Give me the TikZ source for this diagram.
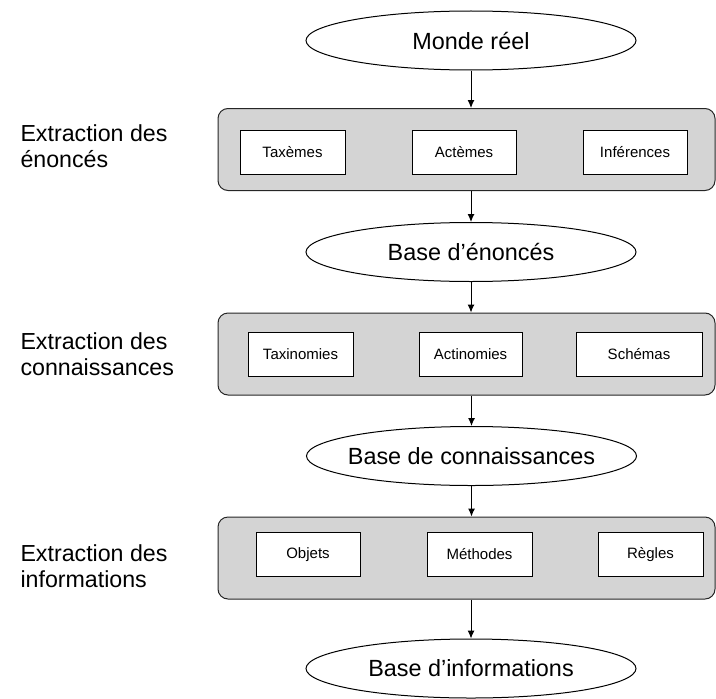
\documentclass[tikz,border=0pt]{standalone}
\usepackage{fontspec}
\setmainfont{Liberation Sans}
\usetikzlibrary{shapes.geometric,arrows.meta}
\definecolor{panelgray}{RGB}{212,212,212}

\begin{document}
\begin{tikzpicture}[x=50pt,y=50pt,line width=0.5pt,
  baseell/.style={draw, ellipse, inner xsep=-4pt, inner ysep=0pt, minimum width=165pt, minimum height=29.5pt, font=\fontsize{11.7}{14}\selectfont},
  panel/.style={draw=black!85, fill=panelgray, rounded corners=5pt, minimum width=248.5pt, minimum height=41pt},
  itembox/.style={draw, fill=white, minimum height=22pt, font=\fontsize{7.5}{9}\selectfont},
  phase/.style={anchor=west, align=left, inner sep=0pt, font=\fontsize{11.6}{13}\selectfont},
  flow/.style={-{Latex[length=4pt,width=3.5pt]}}]

\useasboundingbox (0,0) rectangle (7.16,6.98);

% Bases
\node[baseell] (MR) at (4.71,6.575) {Monde réel};
\node[baseell] (BE) at (4.71,4.46) {Base d’énoncés};
\node[baseell] (BC) at (4.715,2.42) {Base de connaissances};
\node[baseell] (BI) at (4.71,0.295) {Base d’informations};

% Extractions
\node[panel] (EE) at (4.665,5.485) {};
\node[panel] (EC) at (4.665,3.44) {};
\node[panel] (EI) at (4.665,1.40) {};

\node[phase] (LE) at (0.2,5.515) {Extraction des\\énoncés};
\node[phase] (LC) at (0.2,3.435) {Extraction des\\connaissances};
\node[phase] (LI) at (0.2,1.315) {Extraction des\\informations};

% Composants
\node[itembox, minimum width=52.5pt] (Tax) at (2.925,5.46) {Taxèmes};
\node[itembox, minimum width=52pt] (Act) at (4.64,5.46) {Actèmes};
\node[itembox, minimum width=52pt] (Inf) at (6.35,5.46) {Inférences};

\node[itembox, minimum width=52.5pt] (Taxi) at (3.005,3.44) {Taxinomies};
\node[itembox, minimum width=51.5pt] (Acti) at (4.705,3.44) {Actinomies};
\node[itembox, minimum width=63pt] (Sch) at (6.39,3.44) {Schémas};

\node[itembox, minimum width=52pt] (Obj) at (3.08,1.435) {Objets};
\node[itembox, minimum width=52.5pt] (Met) at (4.795,1.435) {Méthodes};
\node[itembox, minimum width=52.5pt] (Reg) at (6.505,1.435) {Règles};

% Flux
\draw[flow] (MR.south) -- (MR.south |- EE.north);
\draw[flow] (BE.north |- EE.south) -- (BE.north);
\draw[flow] (BE.south) -- (BE.south |- EC.north);
\draw[flow] (BC.north |- EC.south) -- (BC.north);
\draw[flow] (BC.south) -- (BC.south |- EI.north);
\draw[flow] (BI.north |- EI.south) -- (BI.north);

\end{tikzpicture}
\end{document}
